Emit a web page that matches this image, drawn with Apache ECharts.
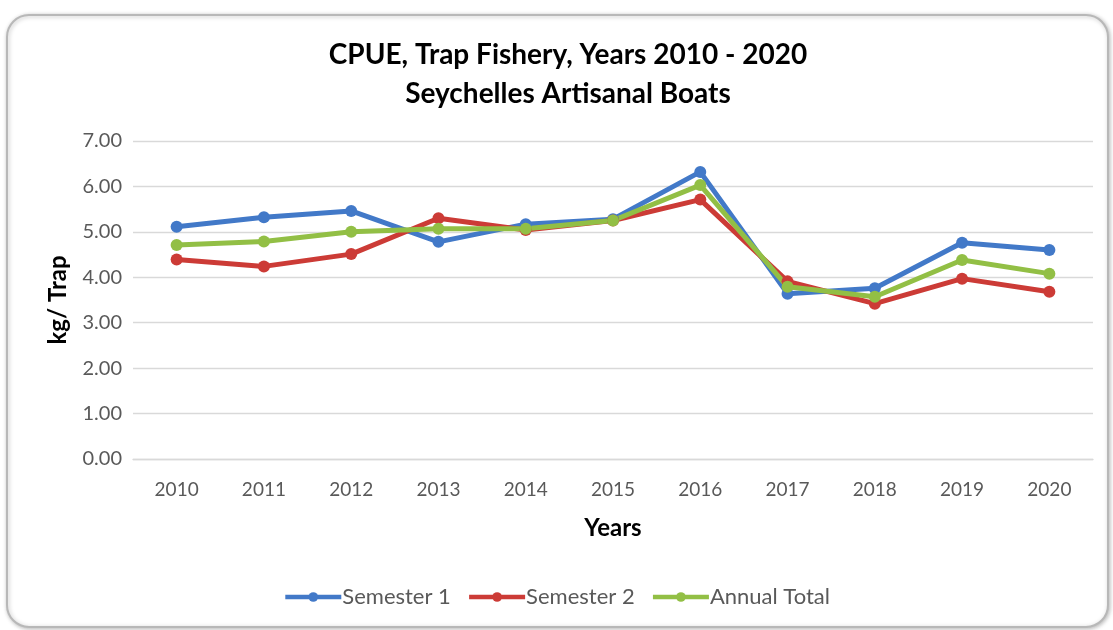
<!DOCTYPE html>
<html>
<head>
<meta charset="utf-8">
<style>
  html, body { margin: 0; padding: 0; background: #ffffff; }
  #chart { width: 1113px; height: 630px; }
</style>
<script src="https://cdn.jsdelivr.net/npm/echarts@6/dist/echarts.min.js"></script>
</head>
<body>
<div id="chart"></div>
<script>
// CPUE (kg per trap) for the trap fishery, Seychelles artisanal boats
const years = ['2010', '2011', '2012', '2013', '2014', '2015', '2016', '2017', '2018', '2019', '2020'];
const semester1 = [5.11, 5.32, 5.46, 4.78, 5.17, 5.28, 6.32, 3.64, 3.76, 4.76, 4.60];
const semester2 = [4.39, 4.24, 4.51, 5.30, 5.04, 5.25, 5.71, 3.91, 3.42, 3.97, 3.68];
const annualTotal = [4.71, 4.79, 5.00, 5.07, 5.07, 5.25, 6.03, 3.79, 3.57, 4.38, 4.08];
const seriesNames = ['Semester 1', 'Semester 2', 'Annual Total'];
const seriesColors = ['#4279c8', '#cc3b36', '#92bf45'];

const font = 'Lato, "Open Sans", sans-serif';
const chart = echarts.init(document.getElementById('chart'));

function lineSeries(name, data, color) {
  return {
    name: name,
    type: 'line',
    data: data,
    symbol: 'circle',
    symbolSize: 12,
    lineStyle: { width: 5, color: color },
    itemStyle: { color: color },
    emphasis: { disabled: true }
  };
}

chart.setOption({
  animation: false,
  backgroundColor: '#ffffff',
  graphic: [{
    type: 'rect',
    z: -10,
    shape: { x: 7, y: 15, width: 1101, height: 612, r: 22 },
    style: {
      fill: '#ffffff',
      stroke: '#b8b8b8',
      lineWidth: 2,
      shadowBlur: 4,
      shadowColor: 'rgba(0,0,0,0.25)',
      shadowOffsetX: 1,
      shadowOffsetY: 1
    }
  }],
  title: {
    text: 'CPUE, Trap Fishery, Years 2010 - 2020\nSeychelles Artisanal Boats',
    left: 563,
    top: 30,
    textAlign: 'center',
    textStyle: {
      fontFamily: font,
      fontWeight: 'bold',
      fontSize: 28,
      lineHeight: 39,
      color: '#000000'
    }
  },
  legend: {
    data: seriesNames,
    bottom: 17,
    left: 'center',
    itemWidth: 56,
    itemHeight: 12,
    itemGap: 16,
    lineStyle: { width: 4.5 },
    textStyle: { fontFamily: font, fontSize: 22, color: '#595959', padding: [0, 0, 0, -4] }
  },
  grid: { left: 133, right: 20, top: 141, bottom: 171 },
  xAxis: {
    type: 'category',
    data: years,
    boundaryGap: true,
    name: 'Years',
    nameLocation: 'middle',
    nameGap: 57,
    nameTextStyle: { fontFamily: font, fontWeight: 'bold', fontSize: 24, color: '#000000' },
    axisLine: { show: true, lineStyle: { color: '#d9d9d9', width: 1.3 } },
    axisTick: { show: false },
    axisLabel: { fontFamily: font, fontSize: 19, color: '#595959', margin: 21 }
  },
  yAxis: {
    type: 'value',
    min: 0,
    max: 7,
    interval: 1,
    name: 'kg/ Trap',
    nameLocation: 'middle',
    nameGap: 63,
    nameTextStyle: { fontFamily: font, fontWeight: 'bold', fontSize: 24, color: '#000000' },
    axisLine: { show: false },
    axisTick: { show: false },
    splitLine: { lineStyle: { color: '#d9d9d9', width: 1.3 } },
    axisLabel: {
      fontFamily: font,
      fontSize: 20,
      color: '#595959',
      margin: 11,
      formatter: v => v.toFixed(2)
    }
  },
  series: [
    lineSeries(seriesNames[0], semester1, seriesColors[0]),
    lineSeries(seriesNames[1], semester2, seriesColors[1]),
    lineSeries(seriesNames[2], annualTotal, seriesColors[2])
  ]
});
</script>
</body>
</html>
